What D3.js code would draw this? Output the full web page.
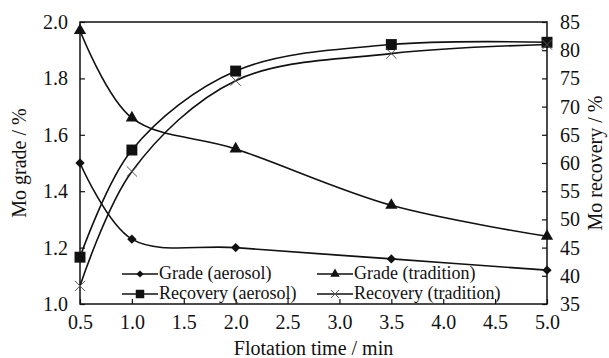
<!DOCTYPE html>
<html>
<head>
<meta charset="UTF-8">
<script src="https://cdn.jsdelivr.net/npm/d3@7"></script>
<style>
  body { margin: 0; background: #fff; }
  svg text { font-family: "Liberation Serif", "Times New Roman", "DejaVu Serif", serif; fill: #111; }
</style>
</head>
<body>
<div id="chart"></div>
<script>
// data
const times = [0.5, 1.0, 2.0, 3.5, 5.0];
const gradeAerosol = [1.50, 1.23, 1.20, 1.16, 1.12];
const gradeTradition = [1.97, 1.66, 1.55, 1.35, 1.24];
const recoveryAerosol = [43.3, 62.3, 76.3, 81.0, 81.4];
const recoveryTradition = [38.2, 58.5, 74.6, 79.4, 81.0];
const xTicks = [0.5, 1.0, 1.5, 2.0, 2.5, 3.0, 3.5, 4.0, 4.5, 5.0];
const gradeTicks = [1.0, 1.2, 1.4, 1.6, 1.8, 2.0];
const recoveryTicks = [35, 40, 45, 50, 55, 60, 65, 70, 75, 80, 85];

const W = 609, H = 358;
const margin = { top: 22, right: 62, bottom: 54, left: 80 };
const width = W - margin.left - margin.right;
const height = H - margin.top - margin.bottom;
const serif = '"Liberation Serif", "Times New Roman", "DejaVu Serif", serif';

const svg = d3.select("#chart").append("svg")
  .attr("width", W).attr("height", H);
const g = svg.append("g").attr("transform", `translate(${margin.left},${margin.top})`);

const x = d3.scaleLinear().domain([0.5, 5.0]).range([0, width]);
const yL = d3.scaleLinear().domain([1.0, 2.0]).range([height, 0]);
const yR = d3.scaleLinear().domain([35, 85]).range([height, 0]);

// axes (ticks point inward)
const xAxis = g.append("g").attr("transform", `translate(0,${height})`)
  .call(d3.axisBottom(x).tickValues(xTicks).tickFormat(d3.format(".1f")).tickSizeInner(-5).tickSizeOuter(0).tickPadding(11));
const lAxis = g.append("g")
  .call(d3.axisLeft(yL).tickValues(gradeTicks).tickFormat(d3.format(".1f")).tickSizeInner(-5).tickSizeOuter(0).tickPadding(12));
const rAxis = g.append("g").attr("transform", `translate(${width},0)`)
  .call(d3.axisRight(yR).tickValues(recoveryTicks).tickSizeInner(-5).tickSizeOuter(0).tickPadding(13));
[xAxis, lAxis, rAxis].forEach(a => {
  a.attr("font-family", null).attr("font-size", null);
  a.selectAll("text").style("font-size", "20px").style("font-family", serif).attr("fill", "#111");
  a.selectAll("line").attr("stroke", "#111").attr("stroke-width", 1.2);
  a.select(".domain").remove();
});

// frame
g.append("rect").attr("width", width).attr("height", height)
  .attr("fill", "none").attr("stroke", "#111").attr("stroke-width", 1.5);

// axis titles
svg.append("text").attr("x", margin.left + width / 2).attr("y", 355)
  .attr("text-anchor", "middle").style("font-size", "20px").style("font-family", serif).text("Flotation time / min");
svg.append("text").attr("transform", `translate(26,${margin.top + height / 2}) rotate(-90)`)
  .attr("text-anchor", "middle").style("font-size", "20px").style("font-family", serif).text("Mo grade / %");
svg.append("text").attr("transform", `translate(602,${margin.top + height / 2}) rotate(-90)`)
  .attr("text-anchor", "middle").style("font-size", "20px").style("font-family", serif).text("Mo recovery / %");

const series = [
  { name: "Grade (aerosol)", vals: gradeAerosol, y: yL, sym: d3.symbolDiamond2, size: 55, kind: "fill" },
  { name: "Grade (tradition)", vals: gradeTradition, y: yL, sym: d3.symbolTriangle, size: 65, kind: "fill" },
  { name: "Recovery (aerosol)", vals: recoveryAerosol, y: yR, sym: d3.symbolSquare, size: 120, kind: "fill" },
  { name: "Recovery (tradition)", vals: recoveryTradition, y: yR, sym: d3.symbolTimes, size: 70, kind: "stroke" }
];

const plot = g.append("g");
series.forEach(s => {
  const pts = times.map((t, i) => [x(t), s.y(s.vals[i])]);
  plot.append("path").datum(pts)
    .attr("d", d3.line().curve(d3.curveCatmullRom.alpha(0.5)))
    .attr("fill", "none").attr("stroke", "#111").attr("stroke-width", 1.6);
  plot.selectAll(null).data(pts).join("path")
    .attr("transform", d => `translate(${d[0]},${d[1]})`)
    .attr("d", d3.symbol(s.sym, s.size))
    .attr("fill", s.kind === "fill" ? "#111" : "none")
    .attr("stroke", s.kind === "fill" ? "none" : "#555")
    .attr("stroke-width", 1);
});

// legend
const legPos = [[42, 252], [237, 252], [42, 272], [237, 272]];
series.forEach((s, i) => {
  const lg = g.append("g").attr("transform", `translate(${legPos[i][0]},${legPos[i][1]})`);
  lg.append("line").attr("x1", 0).attr("x2", 36).attr("stroke", "#111").attr("stroke-width", 1.6);
  lg.append("path").attr("transform", "translate(18,0)")
    .attr("d", d3.symbol(s.sym, s.size * 0.6))
    .attr("fill", s.kind === "fill" ? "#111" : "none")
    .attr("stroke", s.kind === "fill" ? "none" : "#555");
  lg.append("text").attr("x", 37).attr("y", 5).style("font-size", "18px").style("font-family", serif).text(s.name);
});
</script>
</body>
</html>
